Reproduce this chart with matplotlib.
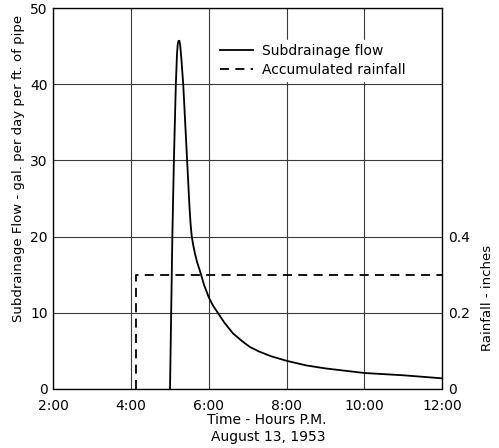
import matplotlib
matplotlib.use("Agg")
import matplotlib.pyplot as plt

# subdrainage flow, gal/day per ft of pipe (hours P.M.)
flow_time = [5.00, 5.06, 5.10, 5.15, 5.18, 5.20, 5.22, 5.24, 5.26, 5.29, 5.34,
             5.44, 5.50, 5.53, 5.56, 5.60, 5.65, 5.70, 5.77, 5.88, 6.00, 6.10,
             6.23, 6.40, 6.62, 6.85, 7.06, 7.30, 7.60, 8.00, 8.50, 9.00, 9.50,
             10.00, 10.50, 11.00, 11.50, 12.00]
flow_value = [0, 20, 30, 40, 44, 45.3, 45.7, 45.7, 45.2, 43.5, 40,
              30, 24, 21.6, 20, 18.8, 17.6, 16.6, 15.5, 13.6, 12.0, 11.0,
              10.0, 8.7, 7.3, 6.3, 5.5, 4.9, 4.3, 3.7, 3.1, 2.7, 2.4,
              2.1, 1.95, 1.8, 1.6, 1.4]

# accumulated rainfall, inches
rain_time = [4.12, 4.12, 12.0]
rain_in = [0, 0.3, 0.3]

x_ticks = [2, 4, 6, 8, 10, 12]
x_labels = ["2:00", "4:00", "6:00", "8:00", "10:00", "12:00"]
flow_ticks = [0, 10, 20, 30, 40, 50]
rain_ticks = [0, 0.2, 0.4]
rain_labels = ["0", "0.2", "0.4"]

plt.rcParams['font.family'] = ['DejaVu Sans']

fig = plt.figure(figsize=(4.99, 4.48), dpi=100)
ax = fig.add_axes([0.107, 0.1317, 0.779, 0.8503])

ax.set_xlim(2, 12)
ax.set_ylim(0, 50)
ax.set_xticks(x_ticks)
ax.set_xticklabels(x_labels)
ax.set_yticks(flow_ticks)
ax.tick_params(axis='both', length=0, labelsize=10)
ax.tick_params(axis='x', pad=7)
ax.tick_params(axis='y', pad=4)
ax.grid(True, color='#3a3a3a', linewidth=0.8)
for s in ax.spines.values():
    s.set_linewidth(0.9)

l1, = ax.plot(flow_time, flow_value, color='black', linewidth=1.3,
              label='Subdrainage flow')

ax2 = ax.twinx()
ax2.set_ylim(0, 1.0)
ax2.set_yticks(rain_ticks)
ax2.set_yticklabels(rain_labels)
ax2.tick_params(axis='y', length=0, labelsize=10, pad=4)
l2, = ax2.plot(rain_time, rain_in, color='black', linewidth=1.3,
               linestyle=(0, (5, 3.5)), label='Accumulated rainfall')

leg = ax2.legend(handles=[l1, l2], loc='upper left',
                 bbox_to_anchor=(0.40, 0.935), frameon=True, fontsize=10,
                 handlelength=2.4, handletextpad=0.6, borderpad=0.3,
                 labelspacing=0.35)
leg.get_frame().set_facecolor('white')
leg.get_frame().set_edgecolor('white')
leg.get_frame().set_alpha(1)

fig.text(0.038, 0.625, "Subdrainage Flow - gal. per day per ft. of pipe",
         rotation=90, ha='center', va='center', fontsize=9.5)
fig.text(0.977, 0.335, "Rainfall - inches", rotation=90,
         ha='center', va='center', fontsize=9.5)
fig.text(0.535, 0.062, "Time - Hours P.M.", ha='center', va='center',
         fontsize=10)
fig.text(0.537, 0.025, "August 13, 1953", ha='center', va='center',
         fontsize=10)

fig.savefig("out.png", dpi=100)
